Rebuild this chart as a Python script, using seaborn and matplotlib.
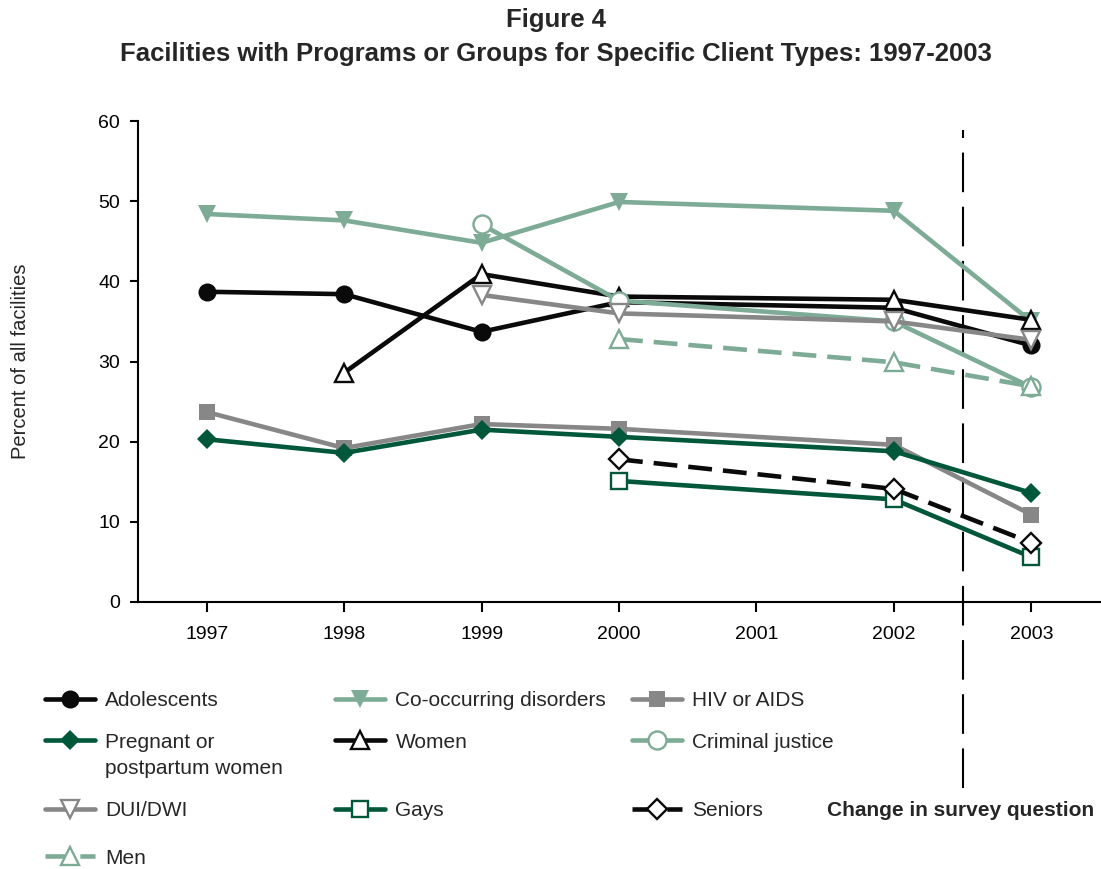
import numpy as np
import pandas as pd
import matplotlib
matplotlib.use('Agg')
import matplotlib.pyplot as plt
import seaborn as sns
from matplotlib.lines import Line2D

# data (percent of all facilities)
years = [1997, 1998, 1999, 2000, 2001, 2002, 2003]
nan = np.nan
adolescents = [38.7, 38.4, 33.7, 37.4, nan, 36.7, 32.0]
co_occurring = [48.4, 47.6, 44.8, 49.9, nan, 48.8, 35.0]
hiv_aids = [23.7, 19.2, 22.2, 21.6, nan, 19.6, 10.9]
pregnant = [20.3, 18.6, 21.5, 20.6, nan, 18.8, 13.6]
women = [nan, 28.6, 40.9, 38.1, nan, 37.7, 35.2]
criminal_justice = [nan, nan, 47.1, 37.6, nan, 35.0, 26.8]
dui_dwi = [nan, nan, 38.3, 36.0, nan, 35.0, 32.7]
gays = [nan, nan, nan, 15.1, nan, 12.8, 5.6]
seniors = [nan, nan, nan, 17.8, nan, 14.1, 7.4]
men = [nan, nan, nan, 32.8, nan, 29.9, 26.9]

year_labels = ['1997', '1998', '1999', '2000', '2001', '2002', '2003']
y_ticks = [0, 10, 20, 30, 40, 50, 60]

BLACK = '#0a0a0a'
SAGE = '#7dab95'
GRAY = '#878787'
DKGREEN = '#00573a'
DASH = (0, (5.2, 2.4))

# name, values, color, marker, markersize, filled, dashed
series = [
    ('Adolescents', adolescents, BLACK, 'o', 13, True, False),
    ('Co-occurring disorders', co_occurring, SAGE, 'v', 13.5, True, False),
    ('HIV or AIDS', hiv_aids, GRAY, 's', 11.5, True, False),
    ('Pregnant or', pregnant, DKGREEN, 'D', 10, True, False),
    ('Women', women, BLACK, '^', 13.5, False, False),
    ('Criminal justice', criminal_justice, SAGE, 'o', 13, False, False),
    ('DUI/DWI', dui_dwi, GRAY, 'v', 13.5, False, False),
    ('Gays', gays, DKGREEN, 's', 11, False, False),
    ('Seniors', seniors, BLACK, 'D', 10, False, True),
    ('Men', men, SAGE, '^', 13.5, False, True),
]

sns.set_style('ticks')
plt.rcParams['font.family'] = ['Liberation Sans', 'DejaVu Sans']

W, H = 1101, 869
fig = plt.figure(figsize=(W / 100, H / 100), dpi=100)
ax = fig.add_axes([138 / W, 1 - 602 / H, 962 / W, 481 / H])

handles = {}
for name, vals, col, mk, ms, filled, dashed in series:
    df = pd.DataFrame({'year': years, 'pct': vals})
    style = dict(color=col, lw=3.3, marker=mk, markersize=ms,
                 markerfacecolor=col if filled else 'white',
                 markeredgecolor=col,
                 markeredgewidth=0 if filled else 1.7,
                 linestyle=DASH if dashed else '-')
    sns.lineplot(data=df, x='year', y='pct', ax=ax, errorbar=None,
                 legend=False, **style)
    handles[name] = Line2D([], [], **style)

ax.set_xlim(1996.5, 2003.5)
ax.set_ylim(0, 60)
ax.set_xticks(years)
ax.set_xticklabels(year_labels)
ax.set_yticks(y_ticks)
ax.set_xlabel('')
ax.set_ylabel('Percent of all facilities', fontsize=14.5)
ax.yaxis.set_label_coords(-0.112, 0.5)
sns.despine(ax=ax)
for side in ['left', 'bottom']:
    ax.spines[side].set_linewidth(1.5)
    ax.spines[side].set_color('black')
ax.tick_params(axis='y', length=6, width=1.5, pad=7, labelsize=14, colors='black')
ax.tick_params(axis='x', length=7, width=1.5, pad=10, labelsize=14, colors='black')

# survey question change marker
ax.axvline(2002.5, ymin=-0.387, ymax=0.981, color='black', lw=1.5,
           ls=(0, (19, 7)), clip_on=False, zorder=0)

fig.text(0.505, 1 - 20 / H, 'Figure 4', ha='center', va='center',
         fontsize=18.5, fontweight='bold')
fig.text(0.505, 1 - 54 / H,
         'Facilities with Programs or Groups for Specific Client Types: 1997-2003',
         ha='center', va='center', fontsize=18.5, fontweight='bold')

# legend laid out as a grid of single entries
keys = [
    ('Adolescents', 45, 701), ('Co-occurring disorders', 335, 701), ('HIV or AIDS', 632, 701),
    ('Pregnant or', 45, 742), ('Women', 335, 742), ('Criminal justice', 632, 742),
    ('DUI/DWI', 45, 811), ('Gays', 335, 811), ('Seniors', 632, 811),
    ('Men', 45, 858),
]
for name, px, py in keys:
    fig.legend([handles[name]], [name], loc='center left',
               bbox_to_anchor=(px / W, 1 - py / H), frameon=False, fontsize=15,
               handlelength=2.4, handletextpad=0.5, borderpad=0, borderaxespad=0)
fig.text(105 / W, 1 - 768 / H, 'postpartum women', ha='left', va='center', fontsize=15)
fig.text(827 / W, 1 - 811 / H, 'Change in survey question', ha='left', va='center',
         fontsize=15, fontweight='bold')

fig.savefig('out.png', dpi=100)
